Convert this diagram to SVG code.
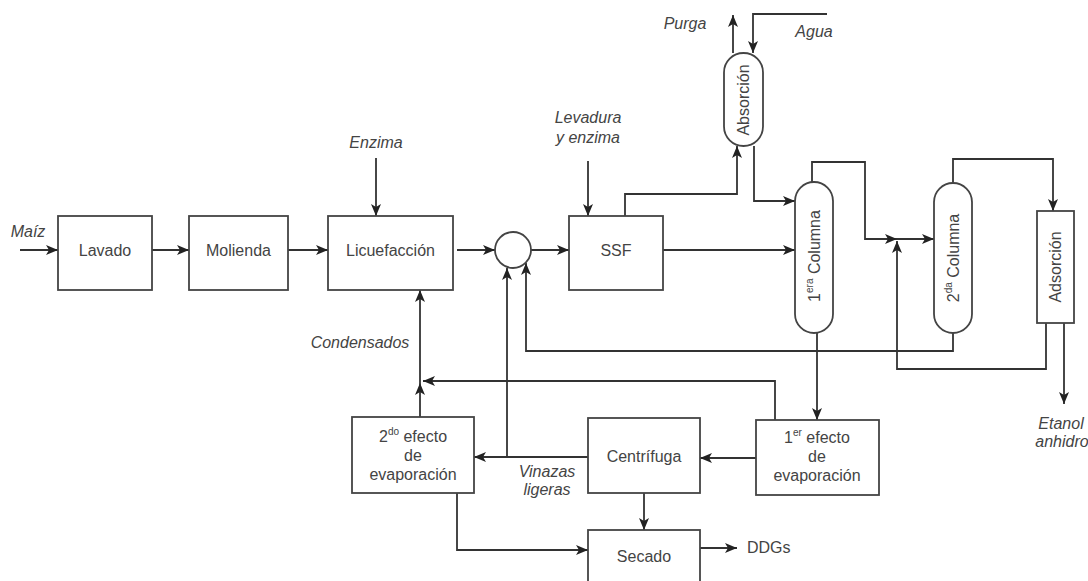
<svg xmlns="http://www.w3.org/2000/svg" width="1088" height="581" viewBox="0 0 1088 581">
<style>
.box{fill:#fff;stroke:#444;stroke-width:1.8}
.ln{fill:none;stroke:#333;stroke-width:1.8}
.t{font-family:"Liberation Sans",Arial,sans-serif;font-size:16px;fill:#444;text-anchor:middle}
.i{font-family:"Liberation Sans",Arial,sans-serif;font-size:16px;fill:#444;font-style:italic;text-anchor:middle}
.sup{font-size:10px}
</style>
<defs>
<marker id="a" markerUnits="userSpaceOnUse" markerWidth="14" markerHeight="12" refX="12" refY="5" orient="auto">
<path d="M0,0 L12,5 L0,10 L3,5 z" fill="#222"/>
</marker>
</defs>
<rect width="1088" height="581" fill="#fff"/>
<g id="connectors" class="ln">
<path class="ln" d="M20,250 H58" marker-end="url(#a)"/>
<path class="ln" d="M152,250 H189" marker-end="url(#a)"/>
<path class="ln" d="M288,250 H328" marker-end="url(#a)"/>
<path class="ln" d="M376,158 V216" marker-end="url(#a)"/>
<path class="ln" d="M457,250 H495" marker-end="url(#a)"/>
<path class="ln" d="M531,250 H569" marker-end="url(#a)"/>
<path class="ln" d="M588,161 V216" marker-end="url(#a)"/>
<path class="ln" d="M625,216 V194 H737 V146" marker-end="url(#a)"/>
<path class="ln" d="M733,53 V15" marker-end="url(#a)"/>
<path class="ln" d="M827,14 H753 V53" marker-end="url(#a)"/>
<path class="ln" d="M754,146 V201 H795" marker-end="url(#a)"/>
<path class="ln" d="M663,250 H795" marker-end="url(#a)"/>
<path class="ln" d="M812,182 V162 H865 V239 H897" marker-end="url(#a)"/>
<path class="ln" d="M897,239 H934" marker-end="url(#a)"/>
<path class="ln" d="M1046,323 V369 H897 V241" marker-end="url(#a)"/>
<path class="ln" d="M953,183 V159 H1053 V211" marker-end="url(#a)"/>
<path class="ln" d="M1064,323 V404" marker-end="url(#a)"/>
<path class="ln" d="M953,333 V351 H526 V263" marker-end="url(#a)"/>
<path class="ln" d="M817,333 V420" marker-end="url(#a)"/>
<path class="ln" d="M756,458 H700" marker-end="url(#a)"/>
<path class="ln" d="M775,420 V381 H423" marker-end="url(#a)"/>
<path class="ln" d="M420,417 V383" marker-end="url(#a)"/>
<path class="ln" d="M420,383 V290" marker-end="url(#a)"/>
<path class="ln" d="M588,457 H474" marker-end="url(#a)"/>
<path class="ln" d="M507,457 V268" marker-end="url(#a)"/>
<path class="ln" d="M457,493 V550 H588" marker-end="url(#a)"/>
<path class="ln" d="M644,493 V530" marker-end="url(#a)"/>
<path class="ln" d="M700,548 H737" marker-end="url(#a)"/>
</g>
<g id="lavado"><rect class="box" x="58" y="216" width="94" height="74"/><text class="t" x="105" y="256">Lavado</text></g>
<g id="molienda"><rect class="box" x="189" y="216" width="99" height="74"/><text class="t" x="238.5" y="256">Molienda</text></g>
<g id="licuefaccion"><rect class="box" x="328" y="216" width="125" height="74"/><text class="t" x="390.5" y="256">Licuefacción</text></g>
<g id="mezclador"><circle class="box" cx="513" cy="250" r="18"/></g>
<g id="ssf"><rect class="box" x="569" y="216" width="94" height="74"/><text class="t" x="616" y="256">SSF</text></g>
<g id="absorcion"><rect class="box" x="724" y="53" width="39" height="93" rx="19.5"/><text class="t" transform="translate(749,100) rotate(-90)">Absorción</text></g>
<g id="columna1"><rect class="box" x="795" y="182" width="38" height="151" rx="19"/><text class="t" transform="translate(820,256) rotate(-90)">1<tspan class="sup" dy="-7">era</tspan><tspan dy="7"> Columna</tspan></text></g>
<g id="columna2"><rect class="box" x="934" y="183" width="38" height="150" rx="19"/><text class="t" transform="translate(959,258) rotate(-90)">2<tspan class="sup" dy="-7">da</tspan><tspan dy="7"> Columna</tspan></text></g>
<g id="adsorcion"><rect class="box" x="1037" y="211" width="37" height="112"/><text class="t" transform="translate(1061,267) rotate(-90)">Adsorción</text></g>
<g id="efecto1"><rect class="box" x="756" y="420" width="123" height="75"/><text class="t" x="817" y="443">1<tspan class="sup" dy="-7">er</tspan><tspan dy="7"> efecto</tspan></text><text class="t" x="817" y="462">de</text><text class="t" x="817" y="481">evaporación</text></g>
<g id="centrifuga"><rect class="box" x="588" y="418" width="112" height="75"/><text class="t" x="644" y="462">Centrífuga</text></g>
<g id="efecto2"><rect class="box" x="352" y="417" width="122" height="76"/><text class="t" x="413" y="442">2<tspan class="sup" dy="-7">do</tspan><tspan dy="7"> efecto</tspan></text><text class="t" x="413" y="461">de</text><text class="t" x="413" y="480">evaporación</text></g>
<g id="secado"><rect class="box" x="588" y="530" width="112" height="60"/><text class="t" x="644" y="562">Secado</text></g>
<g id="labels">
<text class="i" x="28" y="237">Maíz</text>
<text class="i" x="376" y="148">Enzima</text>
<text class="i" x="588" y="123">Levadura</text>
<text class="i" x="588" y="143">y enzima</text>
<text class="i" x="685" y="29">Purga</text>
<text class="i" x="814" y="37">Agua</text>
<text class="i" x="360" y="348">Condensados</text>
<text class="i" x="547" y="477">Vinazas</text>
<text class="i" x="547" y="495">ligeras</text>
<text class="i" x="1061" y="429">Etanol</text>
<text class="i" x="1062" y="447">anhidro</text>
<text class="t" x="747" y="553" style="text-anchor:start">DDGs</text>
</g>
</svg>
